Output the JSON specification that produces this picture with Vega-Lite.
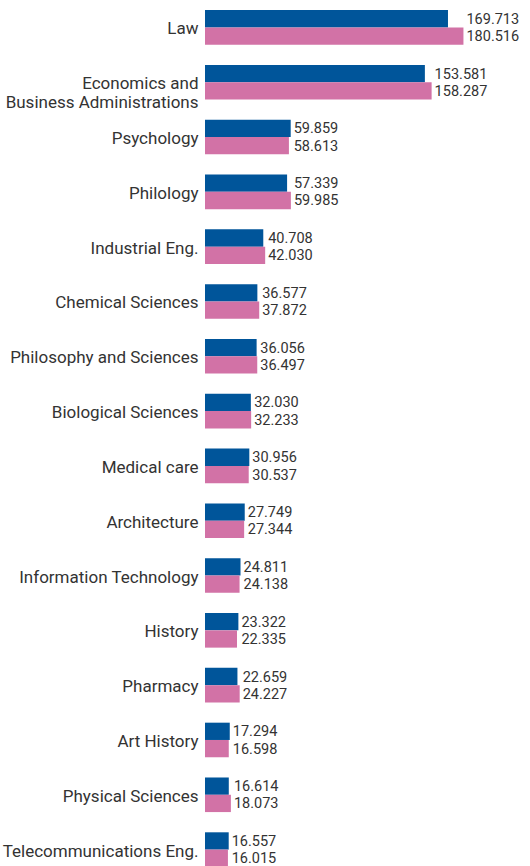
{
  "$schema": "https://vega.github.io/schema/vega-lite/v6.json",
  "autosize": "none",
  "width": 325,
  "height": 877,
  "padding": {"left": 205, "top": 0, "right": 0, "bottom": 0},
  "config": {
    "view": {"stroke": null},
    "locale": {"number": {"decimal": ",", "thousands": ".", "grouping": [3], "currency": ["", " €"]}}
  },
  "data": {"values": [
    {"category": "Law", "series": "A", "value": 169713},
    {"category": "Law", "series": "B", "value": 180516},
    {"category": "Economics and Business Administrations", "series": "A", "value": 153581},
    {"category": "Economics and Business Administrations", "series": "B", "value": 158287},
    {"category": "Psychology", "series": "A", "value": 59859},
    {"category": "Psychology", "series": "B", "value": 58613},
    {"category": "Philology", "series": "A", "value": 57339},
    {"category": "Philology", "series": "B", "value": 59985},
    {"category": "Industrial Eng.", "series": "A", "value": 40708},
    {"category": "Industrial Eng.", "series": "B", "value": 42030},
    {"category": "Chemical Sciences", "series": "A", "value": 36577},
    {"category": "Chemical Sciences", "series": "B", "value": 37872},
    {"category": "Philosophy and Sciences", "series": "A", "value": 36056},
    {"category": "Philosophy and Sciences", "series": "B", "value": 36497},
    {"category": "Biological Sciences", "series": "A", "value": 32030},
    {"category": "Biological Sciences", "series": "B", "value": 32233},
    {"category": "Medical care", "series": "A", "value": 30956},
    {"category": "Medical care", "series": "B", "value": 30537},
    {"category": "Architecture", "series": "A", "value": 27749},
    {"category": "Architecture", "series": "B", "value": 27344},
    {"category": "Information Technology", "series": "A", "value": 24811},
    {"category": "Information Technology", "series": "B", "value": 24138},
    {"category": "History", "series": "A", "value": 23322},
    {"category": "History", "series": "B", "value": 22335},
    {"category": "Pharmacy", "series": "A", "value": 22659},
    {"category": "Pharmacy", "series": "B", "value": 24227},
    {"category": "Art History", "series": "A", "value": 17294},
    {"category": "Art History", "series": "B", "value": 16598},
    {"category": "Physical Sciences", "series": "A", "value": 16614},
    {"category": "Physical Sciences", "series": "B", "value": 18073},
    {"category": "Telecommunications Eng.", "series": "A", "value": 16557},
    {"category": "Telecommunications Eng.", "series": "B", "value": 16015}
  ]},
  "transform": [
    {"joinaggregate": [{"op": "max", "field": "value", "as": "maxv"}], "groupby": ["category"]}
  ],
  "encoding": {
    "y": {
      "field": "category", "type": "nominal", "sort": null,
      "scale": {"paddingInner": 0.369, "paddingOuter": 0.1845},
      "axis": {
        "title": null, "domain": false, "ticks": false, "labelPadding": 7, "labelOffset": 2,
        "labelFont": "Roboto", "labelFontSize": 17, "labelColor": "#333333", "labelLimit": 300,
        "labelExpr": "datum.value == 'Economics and Business Administrations' ? ['Economics and', 'Business Administrations'] : datum.label"
      }
    },
    "yOffset": {"field": "series", "type": "nominal", "sort": ["A", "B"]}
  },
  "layer": [
    {
      "mark": {"type": "bar"},
      "encoding": {
        "x": {"field": "value", "type": "quantitative", "scale": {"domain": [0, 227000], "nice": false}, "axis": null},
        "color": {"field": "series", "type": "nominal", "scale": {"domain": ["A", "B"], "range": ["#00559a", "#d272a6"]}, "legend": null}
      }
    },
    {
      "mark": {"type": "text", "align": "left", "baseline": "middle", "dx": 3, "dy": 1, "font": "Roboto", "fontSize": 14.5, "color": "#333333"},
      "encoding": {
        "x": {"field": "maxv", "type": "quantitative"},
        "text": {"field": "value", "type": "quantitative", "format": ",d"}
      }
    }
  ]
}
